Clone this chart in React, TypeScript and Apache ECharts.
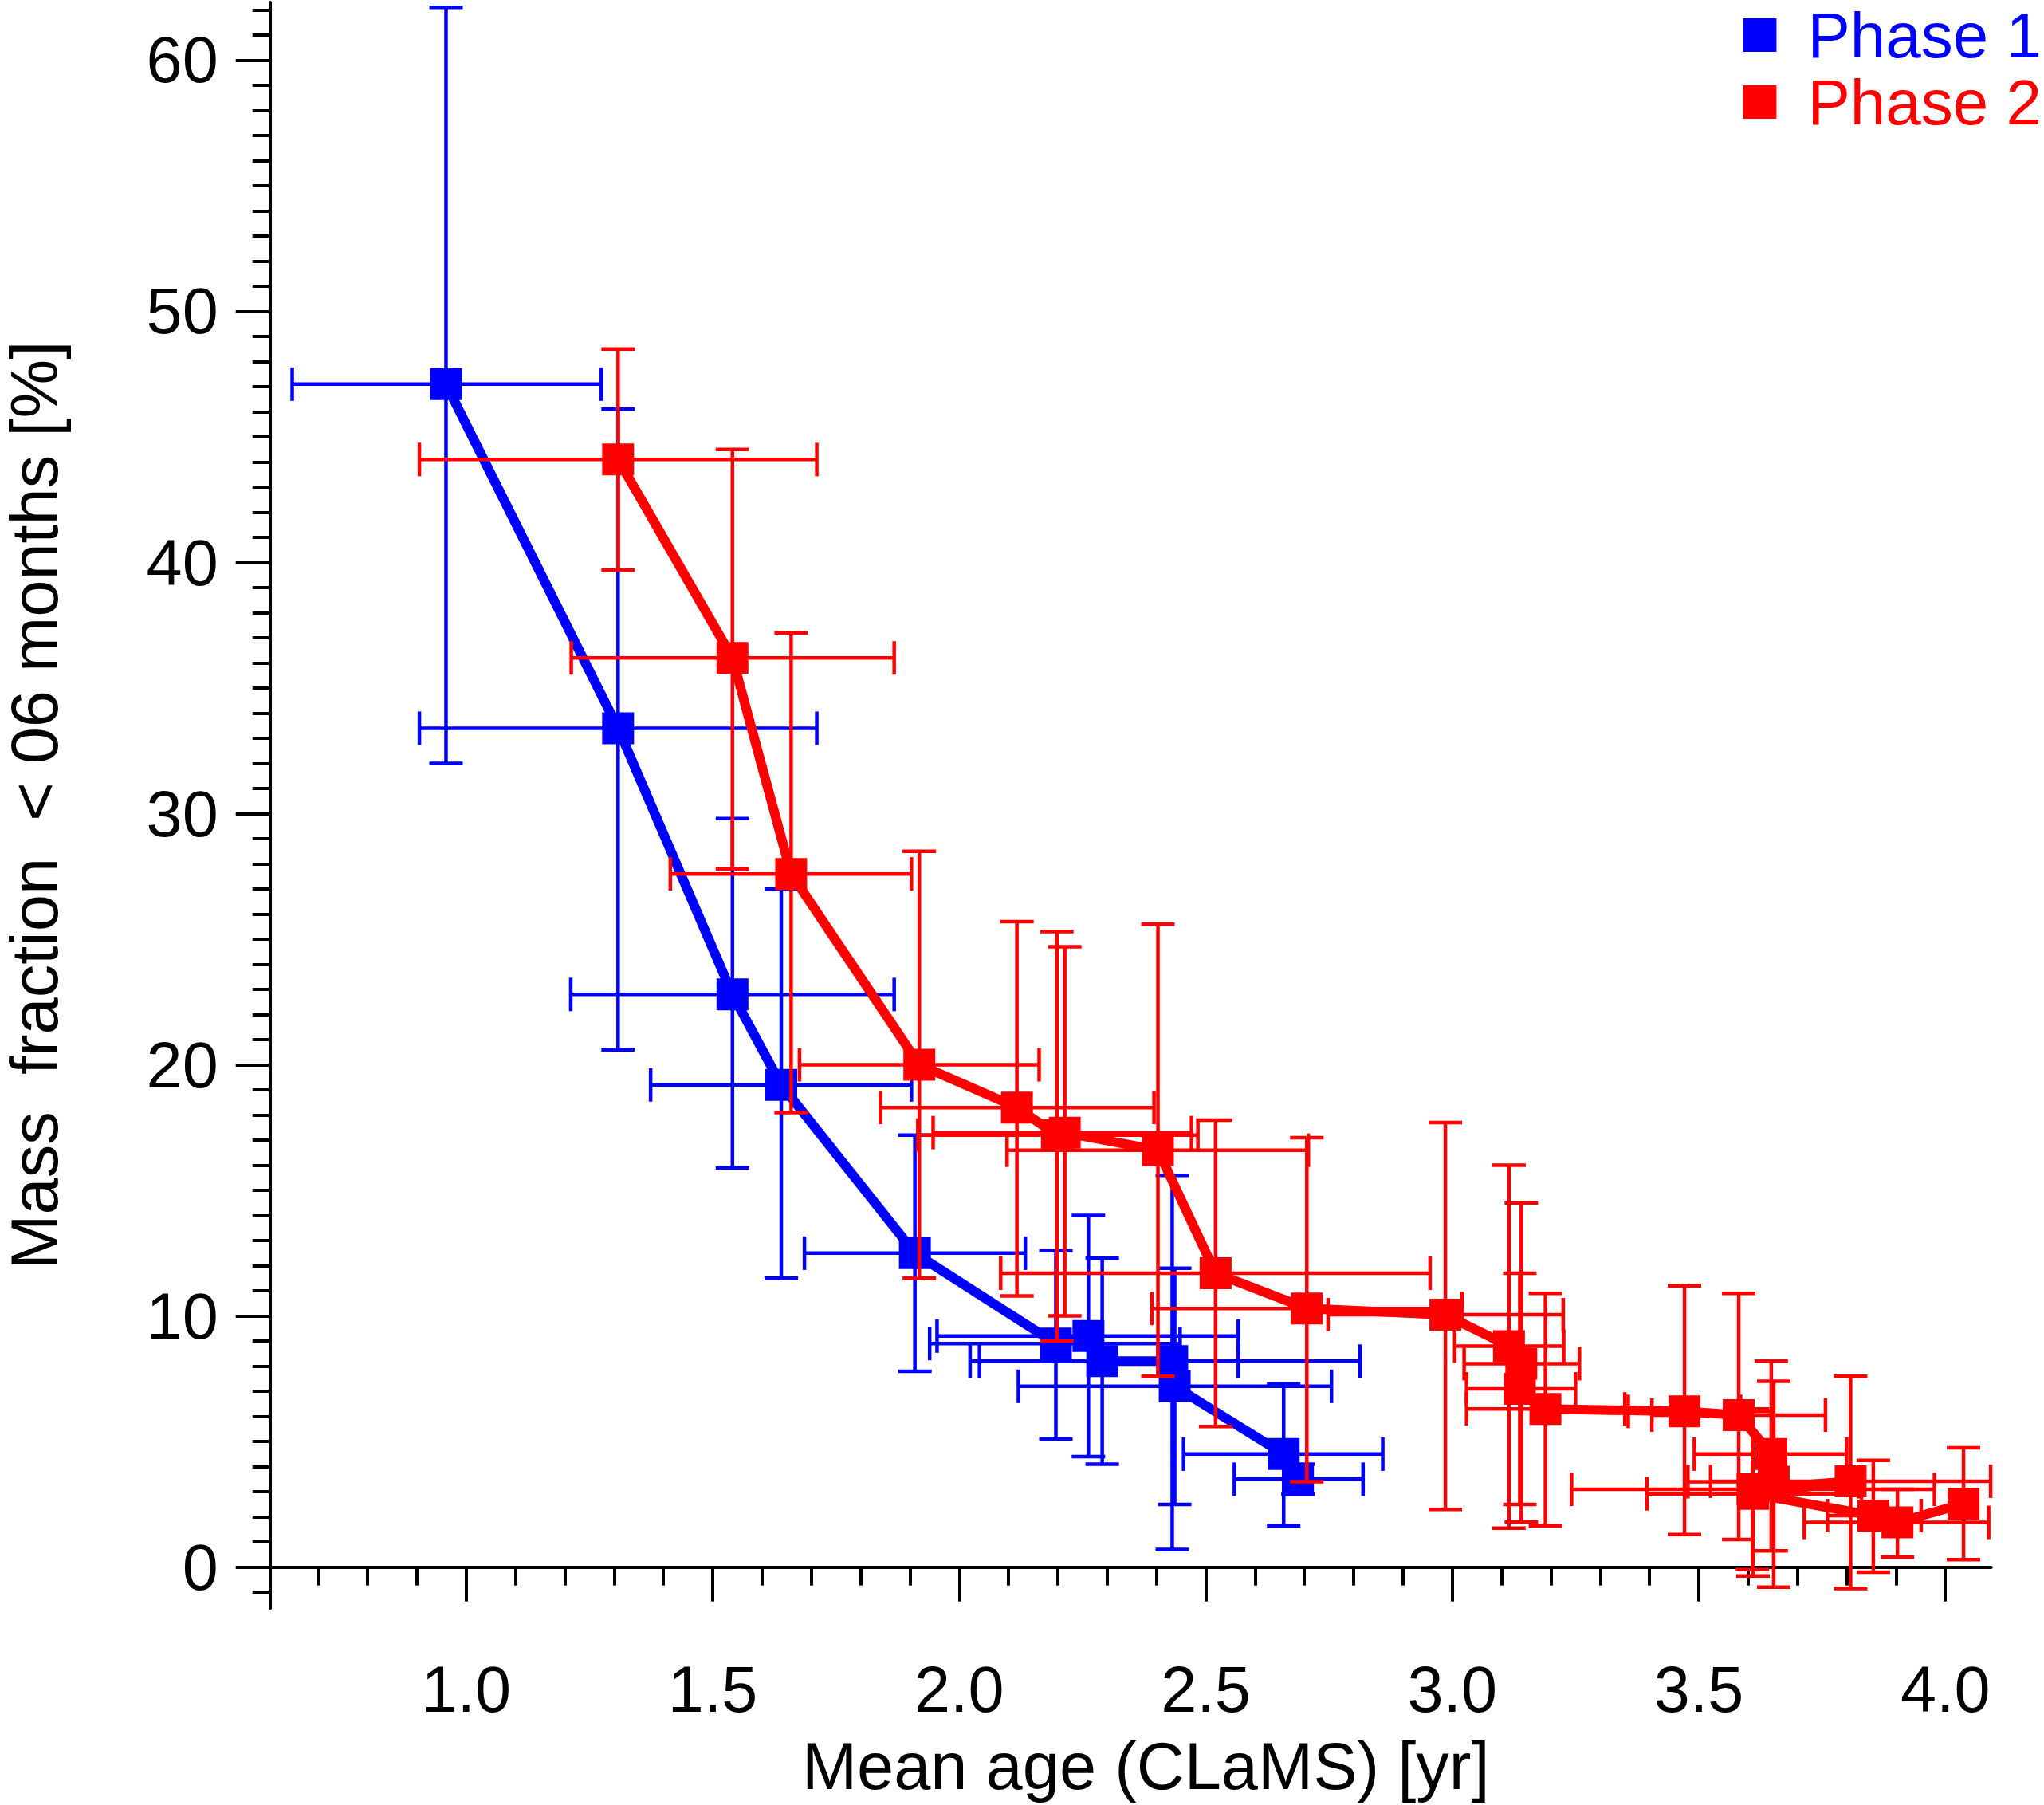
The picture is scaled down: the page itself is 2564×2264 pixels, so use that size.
import React, { useEffect, useRef } from "react";
import * as echarts from "echarts";

const FONT = '"Liberation Sans", Arial, Helvetica, sans-serif';
const BLUE = "#0000ff";
const RED = "#ff0000";

// Phase 1 (blue)
const p1X = [0.959, 1.308, 1.540, 1.639, 1.910, 2.196, 2.262, 2.290, 2.432, 2.437, 2.658, 2.687];
const p1Y = [47.1, 33.4, 22.8, 19.2, 12.5, 8.9, 9.2, 8.2, 8.2, 7.2, 4.5, 3.5];
const p1XLo = [0.647, 0.905, 1.212, 1.374, 1.686, 1.940, 1.955, 2.022, 2.041, 2.120, 2.455, 2.558];
const p1XHi = [1.274, 1.711, 1.868, 1.903, 2.134, 2.448, 2.566, 2.566, 2.813, 2.755, 2.859, 2.819];
const p1YLo = [32.0, 20.6, 15.9, 11.5, 7.8, 5.1, 4.4, 4.1, 0.7, 2.5, 1.65, 2.9];
const p1YHi = [62.1, 46.1, 29.8, 27.0, 17.2, 12.6, 14.0, 12.3, 15.6, 11.9, 7.3, 4.1];

// Phase 2 (red)
const p2X = [1.308, 1.540, 1.659, 1.919, 2.117, 2.198, 2.214, 2.403, 2.520, 2.705, 2.986, 3.115, 3.140, 3.137, 3.189, 3.471, 3.581, 3.647, 3.652, 3.609, 3.808, 3.610, 3.854, 3.903, 4.037];
const p2Y = [44.1, 36.2, 27.6, 20.0, 18.3, 17.2, 17.3, 16.6, 11.7, 10.3, 10.05, 8.8, 8.1, 7.1, 6.3, 6.2, 6.05, 4.5, 3.4, 3.1, 3.42, 2.92, 2.05, 1.78, 2.52];
const p2XLo = [0.905, 1.213, 1.414, 1.676, 1.840, 1.916, 1.947, 2.097, 2.084, 2.391, 2.748, 3.005, 3.024, 3.029, 3.029, 3.357, 3.405, 3.491, 3.478, 3.242, 3.524, 3.395, 3.761, 3.714, 4.037];
const p2XHi = [1.711, 1.868, 1.903, 2.162, 2.395, 2.484, 2.471, 2.708, 2.955, 3.020, 3.225, 3.226, 3.258, 3.250, 3.350, 3.585, 3.757, 3.800, 3.824, 3.978, 4.092, 3.830, 3.951, 4.088, 4.037];
const p2YLo = [39.7, 27.8, 18.1, 11.5, 10.8, 9.0, 10.0, 7.6, 5.6, 3.4, 2.3, 1.55, 1.8, 2.5, 1.65, 1.3, 1.1, 0.65, -0.8, -0.1, -0.85, -0.35, -0.2, 0.4, 0.3];
const p2YHi = [48.5, 44.5, 37.2, 28.5, 25.7, 25.3, 24.7, 25.6, 17.8, 17.1, 17.7, 16.0, 14.5, 11.7, 10.9, 11.2, 10.9, 8.2, 7.4, 6.3, 7.6, 6.2, 4.25, 3.1, 4.75];

// Axes
const xMin = 0.602;
const xMax = 4.093;
const yMin = -1.64;
const yMax = 62.3;
const xMajorTicks = [1.0, 1.5, 2.0, 2.5, 3.0, 3.5, 4.0];
const yMajorTicks = [0, 10, 20, 30, 40, 50, 60];
const xMinorTicks = Array.from({ length: 34 }, (_, i) => Math.round((0.7 + 0.1 * i) * 10) / 10);
const yMinorTicks = Array.from({ length: 64 }, (_, i) => i - 1);

const seriesNames = ["Phase 1", "Phase 2"];
const xTitle = "Mean age (CLaMS) [yr]";
const yTitle = "Mass  fraction  < 06 months [%]";

function rows(x: number[], y: number[], xlo: number[], xhi: number[], ylo: number[], yhi: number[]) {
  return x.map((v, i) => [v, y[i], xlo[i], xhi[i], ylo[i], yhi[i]]);
}

function errRender(color: string) {
  return (params: any, api: any) => {
    const x = api.value(0);
    const y = api.value(1);
    const xlo = api.value(2);
    const xhi = api.value(3);
    const ylo = api.value(4);
    const yhi = api.value(5);
    const c = api.coord([x, y]);
    const l = api.coord([xlo, y]);
    const r = api.coord([xhi, y]);
    const b = api.coord([x, ylo]);
    const t = api.coord([x, yhi]);
    const cap = 21;
    const children: any[] = [];
    const line = (x1: number, y1: number, x2: number, y2: number) =>
      children.push({
        type: "line",
        shape: { x1, y1, x2, y2 },
        style: { stroke: color, lineWidth: 4.5, fill: null },
      });
    if (xhi > xlo) {
      line(l[0], c[1], r[0], c[1]);
      line(l[0], c[1] - cap, l[0], c[1] + cap);
      line(r[0], c[1] - cap, r[0], c[1] + cap);
    }
    if (yhi > ylo) {
      line(c[0], b[1], c[0], t[1]);
      line(c[0] - cap, b[1], c[0] + cap, b[1]);
      line(c[0] - cap, t[1], c[0] + cap, t[1]);
    }
    return { type: "group", children };
  };
}

export default function App() {
  const ref = useRef<HTMLDivElement>(null);

  useEffect(() => {
    document.body.style.margin = "0";
    if (!ref.current) return;
    const chart = echarts.init(ref.current, null, { renderer: "svg" });

    const axisCommon = {
      type: "value" as const,
      splitLine: { show: false },
    };

    const option: any = {
      animation: false,
      backgroundColor: "#ffffff",
      grid: {
        left: 338.7,
        right: 66.3,
        top: 3,
        bottom: 246.7,
        containLabel: false,
        outerBoundsMode: "none",
      },
      legend: {
        orient: "vertical",
        right: 3,
        top: 2,
        padding: 0,
        itemWidth: 42,
        itemHeight: 42,
        itemGap: 0,
        icon: "rect",
        selectedMode: false,
        data: [
          { name: seriesNames[0], textStyle: { color: BLUE } },
          { name: seriesNames[1], textStyle: { color: RED } },
        ],
        textStyle: { fontSize: 80, fontFamily: FONT, lineHeight: 84, padding: [0, 0, 0, 34] },
      },
      xAxis: [
        {
          ...axisCommon,
          min: xMin,
          max: xMax,
          position: "bottom",
          axisLine: { show: true, lineStyle: { color: "#000", width: 4 } },
          axisTick: { show: true, inside: false, length: 43, lineStyle: { color: "#000", width: 4 }, customValues: xMajorTicks },
          axisLabel: {
            show: true,
            customValues: xMajorTicks,
            margin: 61,
            fontSize: 81,
            fontFamily: FONT,
            color: "#000",
            formatter: (v: number) => v.toFixed(1),
          },
          name: xTitle,
          nameLocation: "middle",
          nameGap: 157,
          nameTextStyle: { fontSize: 83, fontFamily: FONT, color: "#000", padding: [0, 0, 0, 38] },
        },
        {
          ...axisCommon,
          min: xMin,
          max: xMax,
          position: "bottom",
          axisLine: { show: false },
          axisTick: { show: true, inside: false, length: 23, lineStyle: { color: "#000", width: 4 }, customValues: xMinorTicks },
          axisLabel: { show: false },
        },
      ],
      yAxis: [
        {
          ...axisCommon,
          min: yMin,
          max: yMax,
          position: "left",
          axisLine: { show: true, lineStyle: { color: "#000", width: 4 } },
          axisTick: { show: true, inside: false, length: 43, lineStyle: { color: "#000", width: 4 }, customValues: yMajorTicks },
          axisLabel: {
            show: true,
            customValues: yMajorTicks,
            margin: 65,
            fontSize: 81,
            fontFamily: FONT,
            color: "#000",
          },
          name: yTitle,
          nameLocation: "middle",
          nameGap: 254,
          nameTextStyle: { fontSize: 83, fontFamily: FONT, color: "#000" },
        },
        {
          ...axisCommon,
          min: yMin,
          max: yMax,
          position: "left",
          axisLine: { show: false },
          axisTick: { show: true, inside: false, length: 22, lineStyle: { color: "#000", width: 4 }, customValues: yMinorTicks },
          axisLabel: { show: false },
        },
      ],
      series: [
        {
          name: "Phase 1 errors",
          type: "custom",
          xAxisIndex: 0,
          yAxisIndex: 0,
          renderItem: errRender(BLUE),
          data: rows(p1X, p1Y, p1XLo, p1XHi, p1YLo, p1YHi),
          encode: { x: 0, y: 1 },
          clip: false,
          silent: true,
          z: 2,
        },
        {
          name: seriesNames[0],
          type: "line",
          xAxisIndex: 0,
          yAxisIndex: 0,
          data: p1X.map((v, i) => [v, p1Y[i]]),
          symbol: "rect",
          symbolSize: 40,
          showAllSymbol: true,
          itemStyle: { color: BLUE },
          lineStyle: { color: BLUE, width: 12 },
          z: 3,
        },
        {
          name: "Phase 2 errors",
          type: "custom",
          xAxisIndex: 0,
          yAxisIndex: 0,
          renderItem: errRender(RED),
          data: rows(p2X, p2Y, p2XLo, p2XHi, p2YLo, p2YHi),
          encode: { x: 0, y: 1 },
          clip: false,
          silent: true,
          z: 4,
        },
        {
          name: seriesNames[1],
          type: "line",
          xAxisIndex: 0,
          yAxisIndex: 0,
          data: p2X.map((v, i) => [v, p2Y[i]]),
          symbol: "rect",
          symbolSize: 40,
          showAllSymbol: true,
          itemStyle: { color: RED },
          lineStyle: { color: RED, width: 12 },
          z: 5,
        },
      ],
    };

    chart.setOption(option);
    return () => {
      chart.dispose();
    };
  }, []);

  return <div ref={ref} style={{ width: 2564, height: 2264 }} />;
}
